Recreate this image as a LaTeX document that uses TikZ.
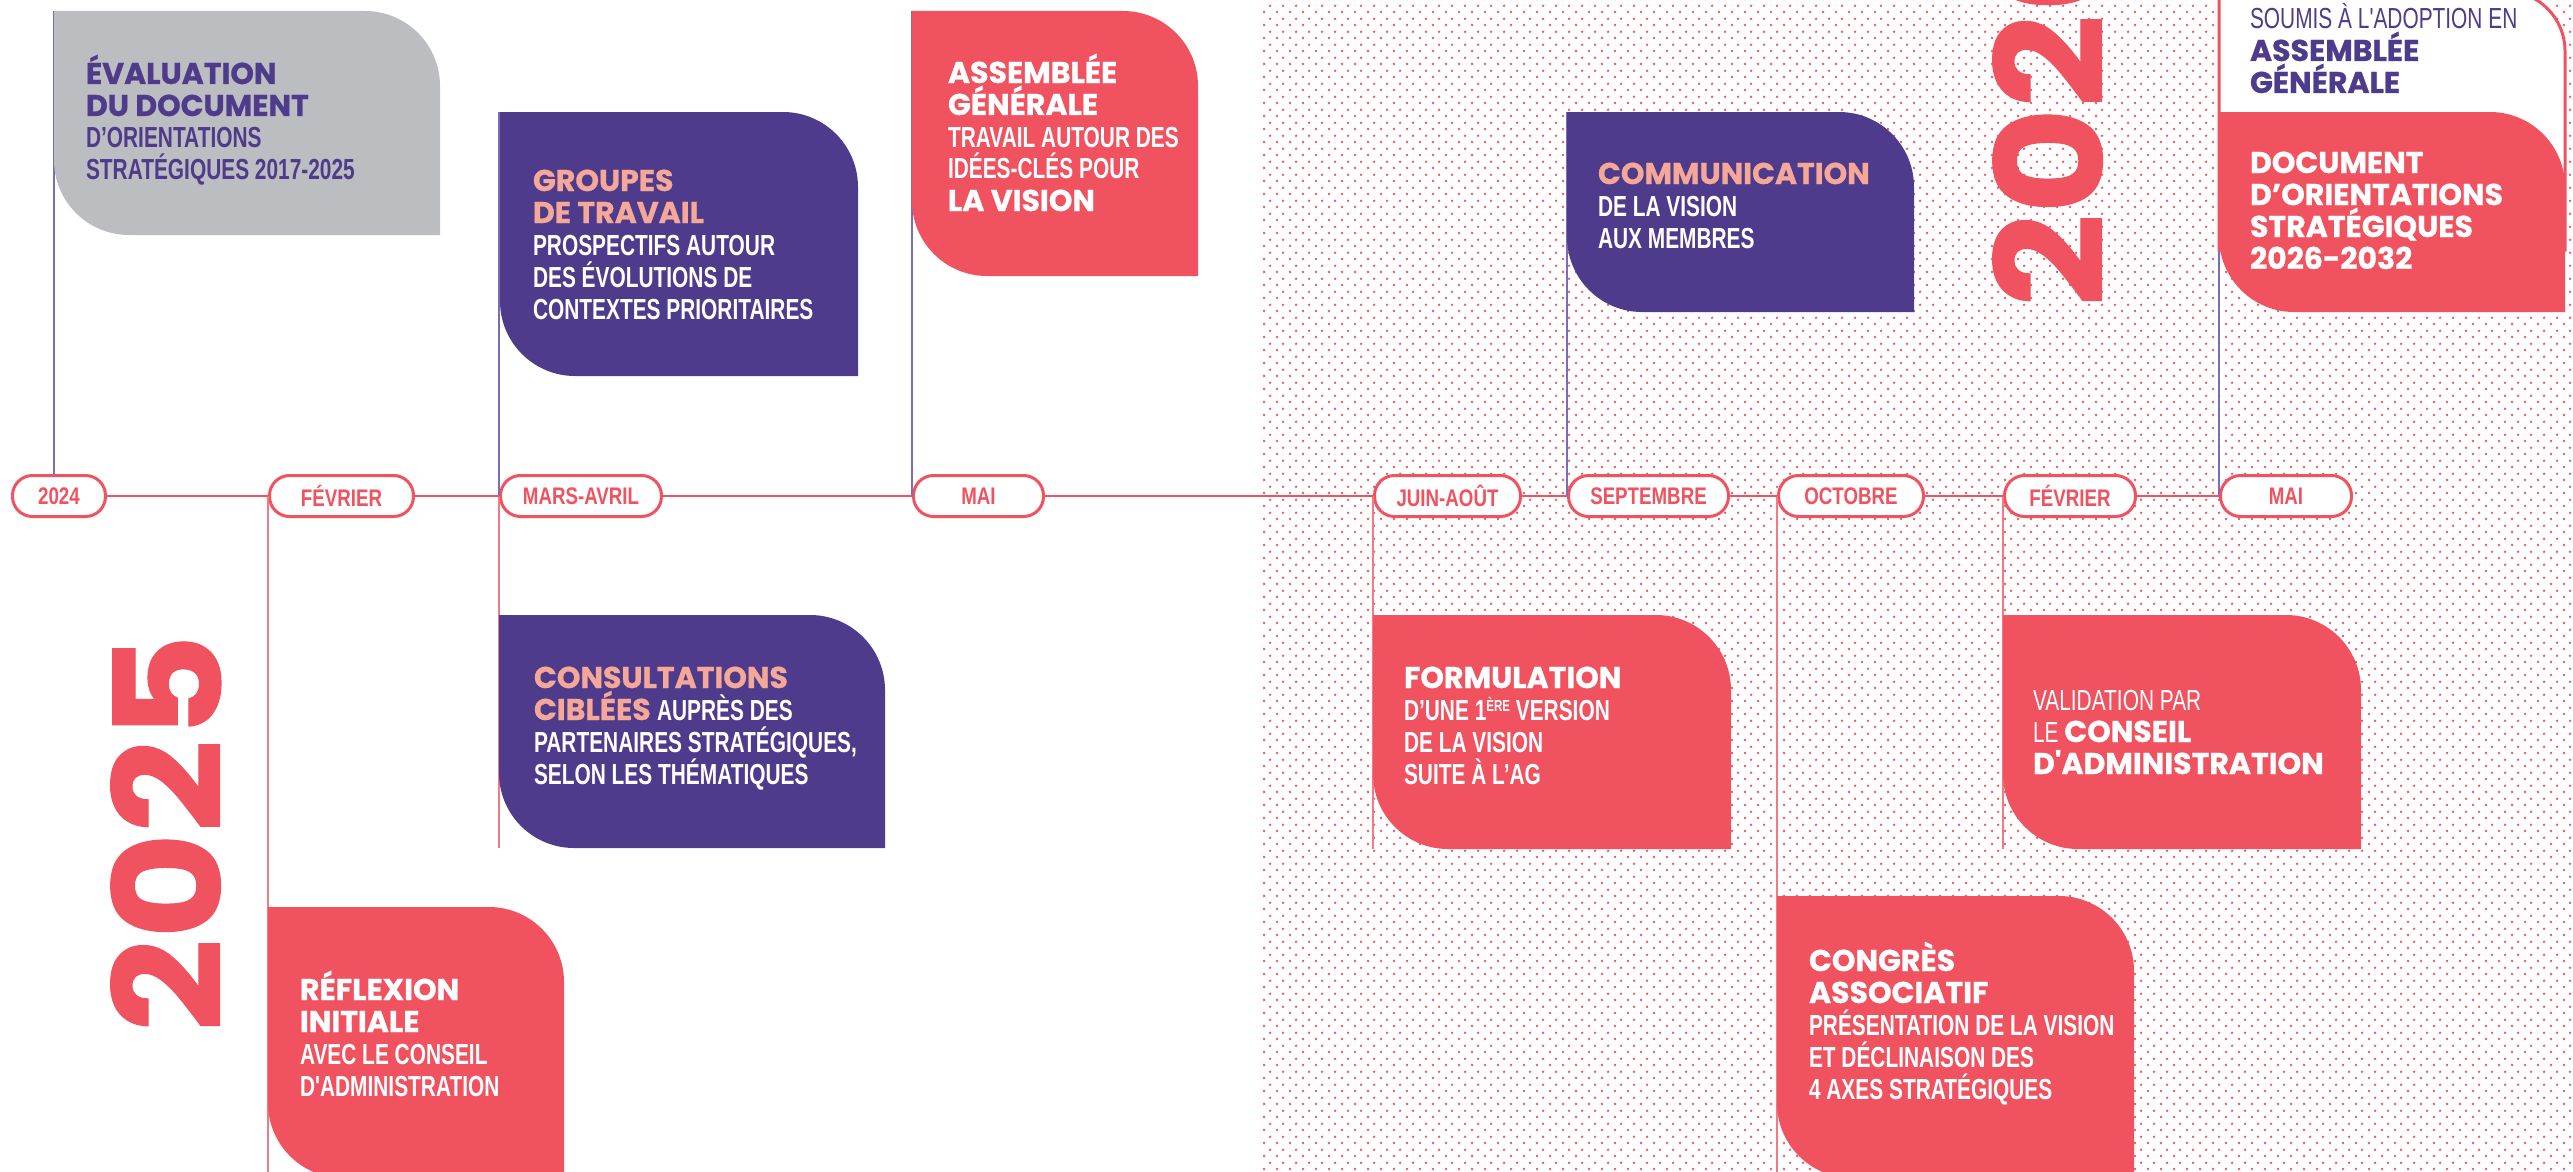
\documentclass[tikz,border=0pt]{standalone}
\usepackage{fontspec}
\usetikzlibrary{patterns}
\newfontfamily\condf{Liberation Sans}[FakeStretch=0.72]
\newfontfamily\pillf{Liberation Sans}[FakeStretch=0.78]
\newfontfamily\headf{Poppins}[BoldFeatures={FakeBold=0.8}]
\newfontfamily\yearf{Poppins}[FakeStretch=1.1, BoldFeatures={FakeBold=0.8}]
\definecolor{cred}{HTML}{F0525F}
\definecolor{cpurple}{HTML}{4F3B8B}
\definecolor{cgrey}{HTML}{BCBDC0}
\definecolor{csalmon}{HTML}{F5A898}
\definecolor{cupline}{HTML}{7A6DB5}
\definecolor{cdownline}{HTML}{F27A85}
\pgfdeclarepatternformonly{dotgrid}{\pgfqpoint{0pt}{0pt}}{\pgfqpoint{13pt}{12.6pt}}{\pgfqpoint{13pt}{12.6pt}}{%
\pgfpathcircle{\pgfqpoint{3.25pt}{3.15pt}}{1.4pt}%
\pgfpathcircle{\pgfqpoint{9.75pt}{9.45pt}}{1.4pt}%
\pgfusepath{fill}}
\newcommand\Hd{\headf\bfseries\fontsize{30}{32}\selectfont}
\newcommand\Rg{\condf\fontsize{29}{32}\selectfont}
\newcommand\blk[1]{\parbox[t]{420pt}{\lineskiplimit=-1000pt\lineskip=0pt\leavevmode #1}}
\newcommand\leaf[6]{%
  \fill[#1] (#2,#3) -- ({#4-75},#3) arc[start angle=-90,end angle=0,radius=75] -- (#4,#5) -- ({#2+75},#5) arc[start angle=90,end angle=180,radius=75] -- cycle;
  \coordinate (#6-tl) at (#2,#3);
  \coordinate (#6-bl) at (#2,#5);}
\begin{document}
\begin{tikzpicture}[x=1pt,y=-1pt,
  pill/.style={draw=cred, line width=3pt, fill=white, rounded corners=20pt, minimum height=41pt, inner sep=0pt, font=\pillf\bfseries\fontsize{24}{24}\selectfont, text=cred},
  txt/.style={anchor=base west, inner sep=0pt, outer sep=0pt},
  upline/.style={draw=cupline, line width=1.3pt},
  downline/.style={draw=cdownline, line width=1.3pt},
  tline/.style={draw=cred, line width=2pt},
  year/.style={anchor=base west, rotate=90, inner sep=0pt, text=cred, font=\yearf\bfseries\fontsize{148}{148}\selectfont}]
\useasboundingbox (0,0) rectangle (2573,1172);
\fill[white] (0,0) rectangle (2573,1172);
\fill[pattern=dotgrid, pattern color=cred] (1262,0) rectangle (2573,1172);
% years
\node[year] (y2025) at (221,1032) {2025};
\node[year] (y2026) at (2103,307) {2026};
% pills
\node[pill, minimum width=93pt] (p2024) at (59,496) {2024};
\node[pill, minimum width=144pt] (pFev) at (341.5,496) {FÉVRIER};
\node[pill, minimum width=161pt] (pMars) at (581,496) {MARS-AVRIL};
\node[pill, minimum width=130pt] (pMai) at (978.5,496) {MAI};
\node[pill, minimum width=146pt] (pJuin) at (1447.5,496) {JUIN-AOÛT};
\node[pill, minimum width=160pt] (pSept) at (1648.5,496) {SEPTEMBRE};
\node[pill, minimum width=145pt] (pOct) at (1851,496) {OCTOBRE};
\node[pill, minimum width=131pt] (pFev2) at (2070,496) {FÉVRIER};
\node[pill, minimum width=131pt] (pMai2) at (2286,496) {MAI};
% box anchor coordinates (for connectors)
\coordinate (bEval-tl) at (54,11);
\coordinate (bGroupes-tl) at (500,112);
\coordinate (bAG-tl) at (912,11);
\coordinate (bComm-tl) at (1567,112);
\coordinate (bDoc-tl) at (2219,112);
\coordinate (bConsult-bl) at (499,848);
\coordinate (bReflex-bl) at (268,1178);
\coordinate (bFormul-bl) at (1373,849);
\coordinate (bValid-bl) at (2003,849);
\coordinate (bCongres-bl) at (1777,1178);
% connectors
\draw[upline] (bEval-tl) -- (bEval-tl |- p2024.north);
\draw[downline] (pFev.west) -- (pFev.west |- bReflex-bl);
\draw[upline] (pMars.west) -- (pMars.west |- bGroupes-tl);
\draw[downline] (pMars.west) -- (pMars.west |- bConsult-bl);
\draw[upline] (pMai.west) -- (pMai.west |- bAG-tl);
\draw[downline] (pJuin.west) -- (pJuin.west |- bFormul-bl);
\draw[upline] (pSept.west) -- (pSept.west |- bComm-tl);
\draw[downline] (pOct.west) -- (pOct.west |- bCongres-bl);
\draw[downline] (pFev2.west) -- (pFev2.west |- bValid-bl);
\draw[upline] (pMai2.west) -- (pMai2.west |- bDoc-tl);
% timeline
\draw[tline] (p2024.east) -- (pFev.west);
\draw[tline] (pFev.east) -- (pMars.west);
\draw[tline] (pMars.east) -- (pMai.west);
\draw[tline] (pMai.east) -- (pJuin.west);
\draw[tline] (pJuin.east) -- (pSept.west);
\draw[tline] (pSept.east) -- (pOct.west);
\draw[tline] (pOct.east) -- (pFev2.west);
\draw[tline] (pFev2.east) -- (pMai2.west);
% boxes
\leaf{cgrey}{54}{11}{440}{235}{bEval}
\leaf{cpurple}{500}{112}{858}{376}{bGroupes}
\leaf{cred}{912}{11}{1198}{276}{bAG}
\leaf{cpurple}{1567}{112}{1914}{312}{bComm}
\filldraw[fill=white, draw=cred, line width=3pt] (2219,250) -- (2219,-9) -- (2505,-9) arc[start angle=-90,end angle=0,radius=60] -- (2565,250) -- cycle;
\coordinate (bSoumis-tl) at (2219,-9);
\leaf{cred}{2219}{112}{2565}{312}{bDoc}
\leaf{cpurple}{499}{615}{885}{848}{bConsult}
\leaf{cred}{268}{907}{564}{1178}{bReflex}
\leaf{cred}{1373}{615}{1731}{849}{bFormul}
\leaf{cred}{2003}{615}{2361}{849}{bValid}
\leaf{cred}{1777}{896}{2134}{1178}{bCongres}
% texts
\node[txt, text=cpurple] (tEval) at (86,84) {\blk{\Hd ÉVALUATION\\DU DOCUMENT\\\Rg D’ORIENTATIONS\\STRATÉGIQUES 2017-2025}};
\node[txt] (tGroupes) at (533,191) {\blk{\Hd\color{csalmon}GROUPES\\DE TRAVAIL\\\Rg\color{white}PROSPECTIFS AUTOUR\\DES ÉVOLUTIONS DE\\CONTEXTES PRIORITAIRES}};
\node[txt, text=white] (tAG) at (948,83) {\blk{\Hd ASSEMBLÉE\\GÉNÉRALE\\\Rg TRAVAIL AUTOUR DES\\IDÉES-CLÉS POUR\\\Hd LA VISION}};
\node[txt] (tComm) at (1598,184) {\blk{\Hd\color{csalmon}COMMUNICATION\\\Rg\color{white}DE LA VISION\\AUX MEMBRES}};
\node[txt, text=cpurple] (tSoumis) at (2250,29) {\blk{\Rg SOUMIS À L'ADOPTION EN\\\Hd ASSEMBLÉE\\GÉNÉRALE}};
\node[txt, text=white] (tDoc) at (2250,173) {\blk{\Hd DOCUMENT\\D’ORIENTATIONS\\STRATÉGIQUES\\2026-2032}};
\node[txt] (tConsult) at (534,688) {\blk{\Hd\color{csalmon}CONSULTATIONS\\CIBLÉES {\Rg\color{white}AUPRÈS DES}\\\Rg\color{white}PARTENAIRES STRATÉGIQUES,\\SELON LES THÉMATIQUES}};
\node[txt, text=white] (tReflex) at (300,1000) {\blk{\Hd RÉFLEXION\\INITIALE\\\Rg AVEC LE CONSEIL\\D'ADMINISTRATION}};
\node[txt, text=white] (tFormul) at (1404,688) {\blk{\Hd FORMULATION\\\Rg D’UNE 1\raisebox{9pt}{\fontsize{16}{16}\selectfont ÈRE} VERSION\\DE LA VISION\\SUITE À L’AG}};
\node[txt, text=white] (tValid) at (2033,710) {\blk{\Rg VALIDATION PAR\\LE {\Hd CONSEIL}\\\Hd D'ADMINISTRATION}};
\node[txt, text=white] (tCongres) at (1809,971) {\blk{\Hd CONGRÈS\\ASSOCIATIF\\\Rg PRÉSENTATION DE LA VISION\\ET DÉCLINAISON DES\\4 AXES STRATÉGIQUES}};
\end{tikzpicture}
\end{document}
